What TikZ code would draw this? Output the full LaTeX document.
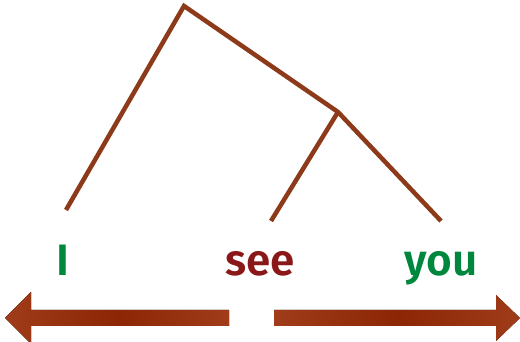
\documentclass[tikz,border=0pt]{standalone}
\usepackage{fontspec}
\setmainfont{Fira Sans}[UprightFont={* SemiBold}]
\definecolor{branch}{RGB}{140,58,26}
\definecolor{wgreen}{RGB}{0,135,62}
\definecolor{wred}{RGB}{138,24,24}
\definecolor{arrdark}{RGB}{140,38,5}
\definecolor{arrlight}{RGB}{160,60,25}
\tikzset{
  branchline/.style={draw=branch,line width=4.5pt,line cap=butt,line join=miter},
  word/.style={anchor=base,font=\fontsize{44}{44}\selectfont,inner sep=0pt},
  bigarrow/.style={left color=arrlight,right color=arrlight,middle color=arrdark,draw=none}
}
\begin{document}
\begin{tikzpicture}[x=1pt,y=1pt]
\useasboundingbox (0,0) rectangle (520,342);
\coordinate (R) at (184,336);
\coordinate (L) at (66,132);
\coordinate (M) at (338,230);
\coordinate (ML) at (271,121);
\coordinate (MR) at (441,121);
\draw[branchline] (L) -- (R) -- (M) -- (MR);
\draw[branchline] (M) -- (ML);
\node[word,text=wgreen] (w1) at (63,66) {I};
\node[word,text=wred] (w2) at (260,66) {see};
\node[word,text=wgreen] (w3) at (441,66) {you};
\fill[bigarrow] (229,32) -- (31,32) -- (31,50) -- (5,24) -- (31,-2) -- (31,16) -- (229,16) -- cycle;
\fill[bigarrow] (274,32) -- (496,32) -- (496,47) -- (520,24) -- (496,1) -- (496,16) -- (274,16) -- cycle;
\end{tikzpicture}
\end{document}
